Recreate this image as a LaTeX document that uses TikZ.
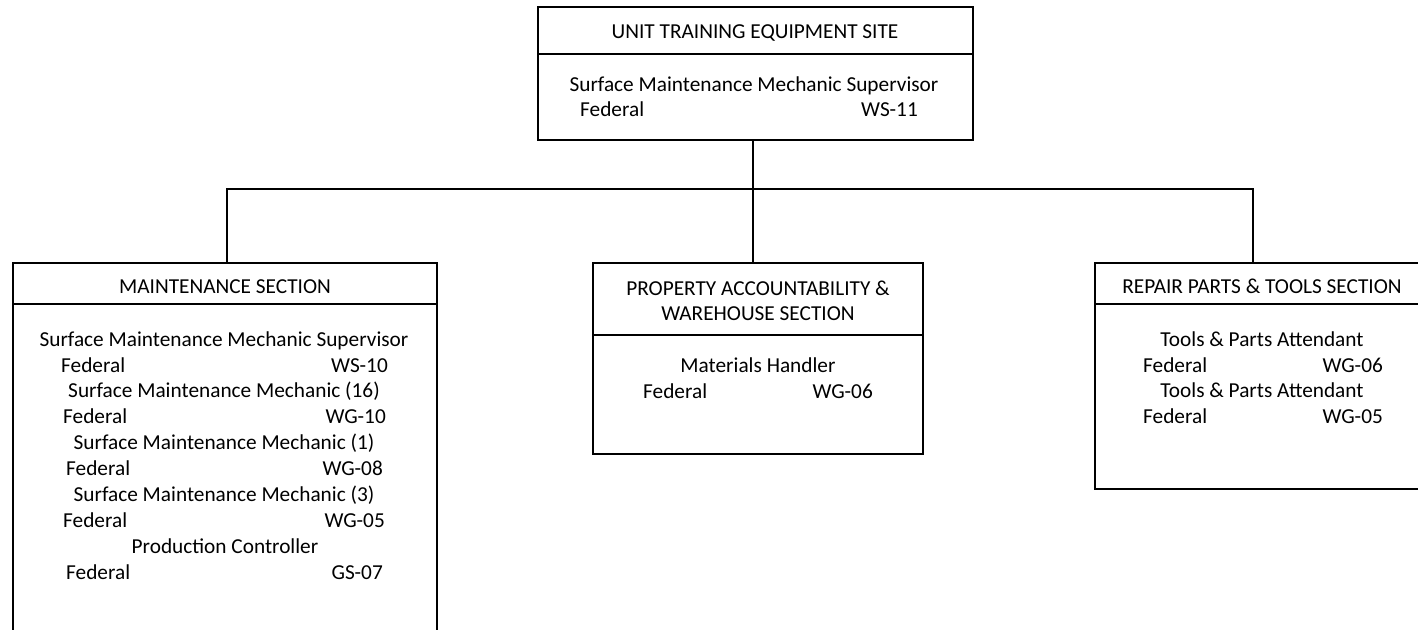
\documentclass[tikz,border=0pt]{standalone}
\usepackage{fontspec}
\setmainfont{Carlito}
\usepackage{tikz}
\usetikzlibrary{positioning}

\tikzset{
  hdr/.style={draw, line width=2pt, inner sep=0pt, align=center},
  body/.style={draw, line width=2pt, inner sep=0pt},
  lbl/.style={inner sep=0pt, text height=17.5pt, text depth=4pt},
  wire/.style={line width=2pt},
}

\begin{document}
\begin{tikzpicture}[x=1pt, y=-1pt, font=\fontsize{21.3}{25.5}\selectfont]
\useasboundingbox (0,0) rectangle (1418,629);

% site box
\node[hdr, minimum width=435pt, minimum height=47pt] (sitehead) at (755.5,30.5) {};
\node[body, minimum width=435pt, minimum height=86pt] (sitebody) at (755.5,97) {};
\node[lbl] (sitettl) at (755,32) {UNIT TRAINING EQUIPMENT SITE};
\node[lbl] (sitejob) at (754,85) {Surface Maintenance Mechanic Supervisor};
\node[lbl, anchor=west] (sitefed) at (580,110) {Federal};
\node[lbl, anchor=east] (sitegr) at (918,110) {WS-11};

% maintenance section
\node[hdr, minimum width=424pt, minimum height=41pt] (mainthead) at (225,283.5) {};
\node[body, minimum width=424pt, minimum height=356pt] (maintbody) at (225,482) {};
\node[lbl] (maintttl) at (225,287) {MAINTENANCE SECTION};
\node[lbl] (mjob1) at (224,340) {Surface Maintenance Mechanic Supervisor};
\node[lbl, anchor=west] (mfed1) at (61,366) {Federal};
\node[lbl, anchor=east] (mgr1) at (388,366) {WS-10};
\node[lbl] (mjob2) at (224,391) {Surface Maintenance Mechanic (16)};
\node[lbl, anchor=west] (mfed2) at (63,417) {Federal};
\node[lbl, anchor=east] (mgr2) at (386,417) {WG-10};
\node[lbl] (mjob3) at (224,443) {Surface Maintenance Mechanic (1)};
\node[lbl, anchor=west] (mfed3) at (66,469) {Federal};
\node[lbl, anchor=east] (mgr3) at (383,469) {WG-08};
\node[lbl] (mjob4) at (224,495) {Surface Maintenance Mechanic (3)};
\node[lbl, anchor=west] (mfed4) at (63,521) {Federal};
\node[lbl, anchor=east] (mgr4) at (385,521) {WG-05};
\node[lbl] (mjob5) at (225,547) {Production Controller};
\node[lbl, anchor=west] (mfed5) at (66,573) {Federal};
\node[lbl, anchor=east] (mgr5) at (383,573) {GS-07};

% property & warehouse section
\node[hdr, minimum width=330pt, minimum height=72pt] (prophead) at (758,299) {};
\node[body, minimum width=330pt, minimum height=119pt] (propbody) at (758,394.5) {};
\node[lbl, align=center, text height=, text depth=] (propttl) at (758,301) {PROPERTY ACCOUNTABILITY \&\\WAREHOUSE SECTION};
\node[lbl] (pjob1) at (758,366) {Materials Handler};
\node[lbl, anchor=west] (pfed1) at (643,392) {Federal};
\node[lbl, anchor=east] (pgr1) at (873,392) {WG-06};

% repair parts & tools section
\node[hdr, minimum width=334pt, minimum height=41pt] (rephead) at (1262,283.5) {};
\node[body, minimum width=334pt, minimum height=185pt] (repbody) at (1262,396.5) {};
\node[lbl] (repttl) at (1262,287) {REPAIR PARTS \& TOOLS SECTION};
\node[lbl] (rjob1) at (1262,340) {Tools \& Parts Attendant};
\node[lbl, anchor=west] (rfed1) at (1143,366) {Federal};
\node[lbl, anchor=east] (rgr1) at (1383,366) {WG-06};
\node[lbl] (rjob2) at (1262,391) {Tools \& Parts Attendant};
\node[lbl, anchor=west] (rfed2) at (1143,417) {Federal};
\node[lbl, anchor=east] (rgr2) at (1383,417) {WG-05};

% connectors
\coordinate (bus) at (753,189);
\draw[wire] (sitebody.south -| bus) -- (prophead.north -| bus);
\draw[wire] (mainthead.north -| 227,0) |- (bus) -| (rephead.north -| 1253,0);
\end{tikzpicture}
\end{document}
